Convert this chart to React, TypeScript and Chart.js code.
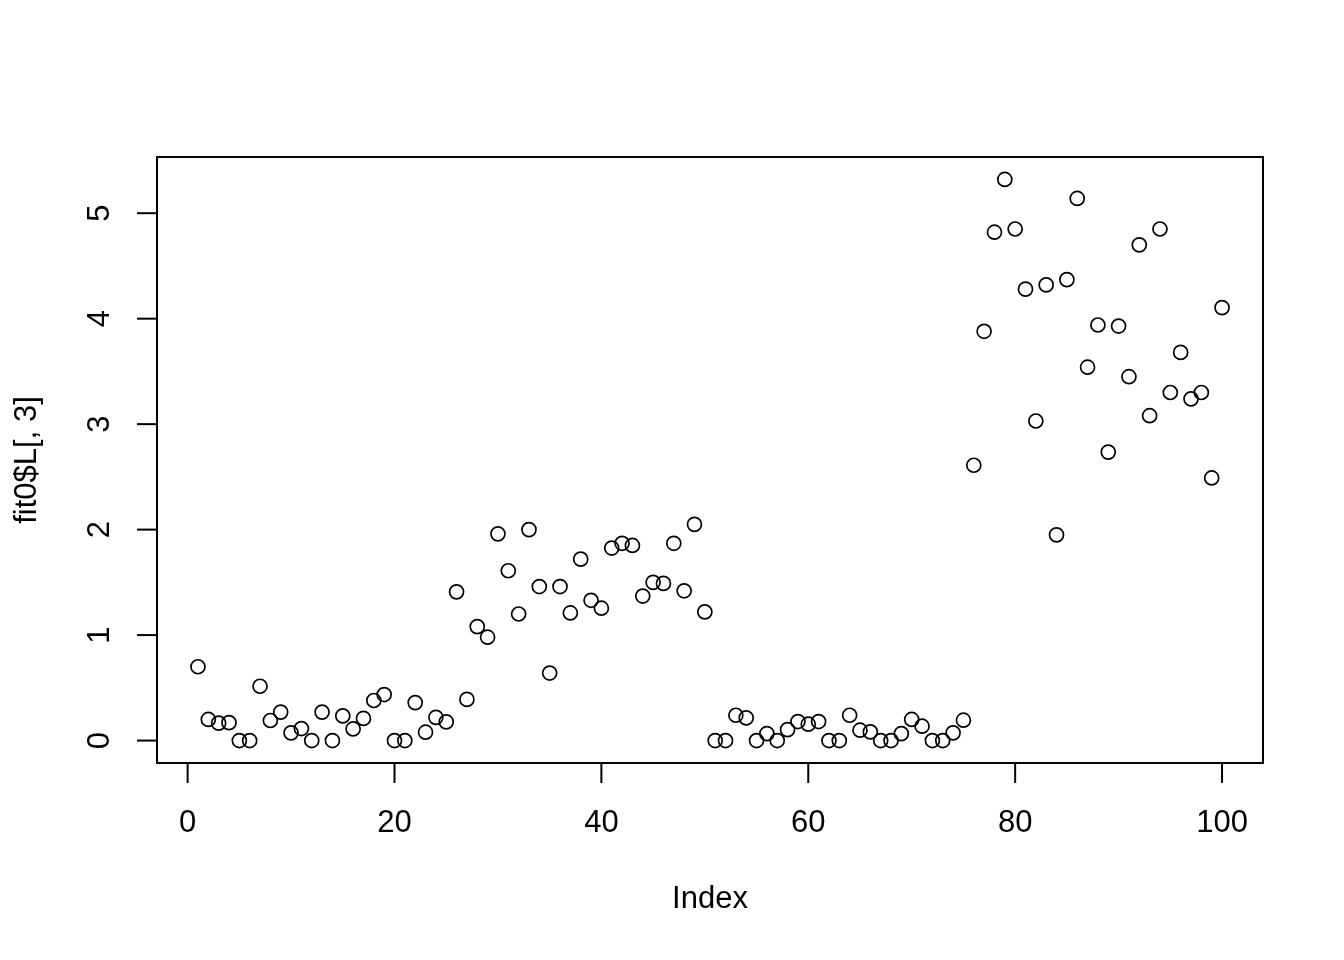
import React, { useEffect, useRef } from "react";
import { Chart, registerables } from "chart.js";

Chart.register(...registerables);

const indexValues = [
  1, 2, 3, 4, 5, 6, 7, 8, 9, 10, 11, 12, 13, 14, 15, 16, 17, 18, 19, 20,
  21, 22, 23, 24, 25, 26, 27, 28, 29, 30, 31, 32, 33, 34, 35, 36, 37, 38, 39, 40,
  41, 42, 43, 44, 45, 46, 47, 48, 49, 50, 51, 52, 53, 54, 55, 56, 57, 58, 59, 60,
  61, 62, 63, 64, 65, 66, 67, 68, 69, 70, 71, 72, 73, 74, 75, 76, 77, 78, 79, 80,
  81, 82, 83, 84, 85, 86, 87, 88, 89, 90, 91, 92, 93, 94, 95, 96, 97, 98, 99, 100,
];

const lValues = [
  0.7, 0.2, 0.165, 0.17, 0, 0, 0.515, 0.19, 0.27, 0.073,
  0.114, 0, 0.27, 0, 0.234, 0.11, 0.21, 0.38, 0.436, 0,
  0, 0.36, 0.079, 0.22, 0.177, 1.41, 0.39, 1.08, 0.98, 1.96,
  1.61, 1.2, 2.0, 1.46, 0.64, 1.46, 1.21, 1.72, 1.33, 1.255,
  1.825, 1.87, 1.85, 1.37, 1.5, 1.49, 1.87, 1.42, 2.05, 1.22,
  0, 0, 0.24, 0.215, 0, 0.066, 0, 0.104, 0.18, 0.155,
  0.18, 0, 0, 0.24, 0.098, 0.082, 0, 0, 0.066, 0.2,
  0.136, 0, 0, 0.073, 0.193, 2.61, 3.88, 4.82, 5.32, 4.85,
  4.28, 3.03, 4.32, 1.95, 4.37, 5.14, 3.54, 3.94, 2.735, 3.93,
  3.45, 4.7, 3.08, 4.85, 3.3, 3.68, 3.24, 3.3, 2.49, 4.105,
];

const xTicks = [0, 20, 40, 60, 80, 100];
const yTicks = [0, 1, 2, 3, 4, 5];
const xTitle = "Index";
const yTitle = "fit0$L[, 3]";

const FONT = '31px "Liberation Sans", Arial, sans-serif';

const rAxesPlugin = {
  id: "rAxes",
  afterDraw(chart: any) {
    const ctx = chart.ctx;
    const area = chart.chartArea;
    const xs = chart.scales.x;
    const ys = chart.scales.y;
    ctx.save();
    ctx.strokeStyle = "#000";
    ctx.fillStyle = "#000";
    ctx.lineWidth = 2;
    // box
    ctx.strokeRect(area.left, area.top, area.right - area.left, area.bottom - area.top);
    // x axis ticks
    ctx.font = FONT;
    ctx.textAlign = "center";
    ctx.textBaseline = "middle";
    for (const t of xTicks) {
      const px = xs.getPixelForValue(t);
      ctx.beginPath();
      ctx.moveTo(px, area.bottom);
      ctx.lineTo(px, area.bottom + 20);
      ctx.stroke();
      ctx.fillText(String(t), px, area.bottom + 60);
    }
    // y axis ticks
    for (const t of yTicks) {
      const py = ys.getPixelForValue(t);
      ctx.beginPath();
      ctx.moveTo(area.left, py);
      ctx.lineTo(area.left - 20, py);
      ctx.stroke();
      ctx.save();
      ctx.translate(area.left - 57, py);
      ctx.rotate(-Math.PI / 2);
      ctx.fillText(String(t), 0, 0);
      ctx.restore();
    }
    // titles
    const cx = (area.left + area.right) / 2;
    const cy = (area.top + area.bottom) / 2;
    ctx.fillText(xTitle, cx, area.bottom + 136);
    ctx.save();
    ctx.translate(27, cy);
    ctx.rotate(-Math.PI / 2);
    ctx.fillText(yTitle, 0, 0);
    ctx.restore();
    ctx.restore();
  },
};

export default function App() {
  const canvasRef = useRef<HTMLCanvasElement | null>(null);

  useEffect(() => {
    document.body.style.margin = "0";
    const canvas = canvasRef.current;
    if (!canvas) return;
    const points = indexValues.map((x, i) => ({ x, y: lValues[i] }));
    const chart = new Chart(canvas, {
      type: "scatter",
      data: {
        datasets: [
          {
            data: points,
            pointRadius: 7,
            pointHoverRadius: 7,
            pointBorderWidth: 1.7,
            pointBorderColor: "#000",
            pointBackgroundColor: "rgba(0,0,0,0)",
            pointStyle: "circle",
          },
        ],
      },
      options: {
        responsive: false,
        animation: false,
        events: [],
        layout: { padding: { left: 157, top: 157, right: 81, bottom: 197 } },
        plugins: { legend: { display: false }, tooltip: { enabled: false } },
        scales: {
          x: { type: "linear", min: -2.96, max: 103.96, display: false },
          y: { type: "linear", min: -0.2128, max: 5.5328, display: false },
        },
      },
      plugins: [rAxesPlugin],
    });
    return () => chart.destroy();
  }, []);

  return (
    <div style={{ position: "fixed", left: 0, top: 0, width: 1344, height: 960, background: "#fff" }}>
      <canvas ref={canvasRef} width={1344} height={960} style={{ display: "block" }} />
    </div>
  );
}
